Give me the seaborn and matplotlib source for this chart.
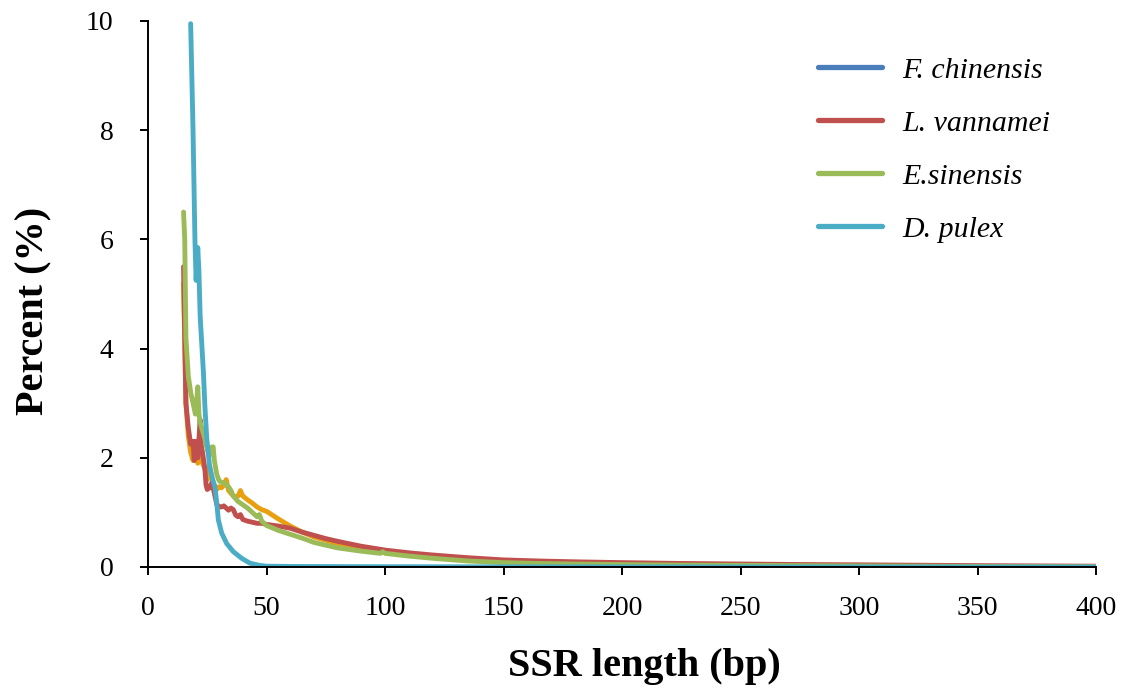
import numpy as np
import pandas as pd
import matplotlib
matplotlib.use("Agg")
import matplotlib.pyplot as plt
from matplotlib.lines import Line2D
import seaborn as sns

# ---------------- data ----------------
species = ["F. chinensis", "L. vannamei", "E.sinensis", "D. pulex"]

fc_x = [15, 16, 17, 18, 19, 20, 21, 22, 23, 24, 25, 26, 27, 28, 29, 30, 31, 32, 33, 34,
        35, 36, 37, 38, 39, 40, 42, 44, 46, 48, 50, 55, 60, 65, 70, 75, 80, 90, 100, 110,
        120, 135, 150, 165, 180, 200, 225, 250, 275, 300, 350, 400]
fc_y = [5.2, 3.0, 2.4, 2.1, 1.95, 2.2, 1.9, 2.5, 1.9, 1.8, 1.6, 1.85, 1.6, 1.5, 1.42, 1.47, 1.45, 1.5, 1.6, 1.4,
        1.35, 1.3, 1.28, 1.3, 1.4, 1.3, 1.23, 1.17, 1.1, 1.05, 1.02, 0.88, 0.75, 0.64, 0.55, 0.49, 0.42, 0.35, 0.29, 0.23,
        0.19, 0.13, 0.09, 0.075, 0.065, 0.055, 0.045, 0.035, 0.03, 0.02, 0.01, 0.005]

lv_x = [15, 15.5, 16, 17, 18, 19, 19.5, 20, 21, 22, 22.5, 23, 24, 24.5, 25, 26, 27, 28, 29, 30,
        31, 32, 33, 34, 35, 36, 37, 38, 39, 40, 42, 44, 46, 48, 50, 55, 60, 65, 70, 75,
        80, 90, 100, 110, 120, 135, 150, 165, 180, 200, 225, 250, 275, 300, 350, 400]
lv_y = [5.5, 4.2, 3.0, 2.55, 2.25, 2.3, 1.95, 2.3, 2.0, 2.7, 2.2, 2.1, 1.8, 1.5, 1.42, 1.45, 1.55, 1.35, 1.15, 1.1,
        1.1, 1.12, 1.08, 1.04, 1.08, 1.05, 0.95, 0.92, 0.96, 0.87, 0.84, 0.82, 0.8, 0.8, 0.78, 0.75, 0.71, 0.64, 0.58, 0.52,
        0.47, 0.38, 0.31, 0.26, 0.22, 0.17, 0.13, 0.11, 0.095, 0.08, 0.065, 0.055, 0.045, 0.04, 0.025, 0.015]

es_x = [15, 15.5, 16, 17, 18, 19, 20, 20.5, 21, 21.5, 22, 23, 24, 25, 26, 27, 27.5, 28, 29, 30,
        31, 32, 33, 34, 35, 36, 37, 38, 40, 42, 44, 46, 47, 48, 50, 55, 60, 65, 70, 75,
        80, 90, 98, 99, 100, 110, 120, 135, 150, 165, 180, 200, 225, 250, 275, 300, 350, 400]
es_y = [6.5, 6.0, 4.2, 3.5, 3.2, 3.0, 2.8, 3.0, 3.3, 2.8, 2.65, 2.5, 2.35, 2.15, 2.05, 2.2, 2.2, 1.95, 1.7, 1.58,
        1.55, 1.55, 1.5, 1.47, 1.4, 1.3, 1.25, 1.2, 1.14, 1.08, 1.0, 0.92, 0.96, 0.84, 0.76, 0.67, 0.6, 0.53, 0.45, 0.4,
        0.35, 0.29, 0.25, 0.28, 0.25, 0.2, 0.16, 0.11, 0.08, 0.065, 0.055, 0.045, 0.035, 0.03, 0.025, 0.02, 0.01, 0.005]

dp_x = [18, 19, 19.8, 20.3, 21, 21.5, 22, 22.6, 23.4, 24, 24.8, 26, 27, 28.3, 29, 29.7, 31.1, 33.2, 36, 39.5,
        43, 47, 50, 60, 100, 150, 200, 300, 400]
dp_y = [9.95, 8.0, 6.0, 5.25, 5.85, 5.4, 4.6, 4.15, 3.55, 2.95, 2.35, 1.84, 1.65, 1.45, 1.17, 0.86, 0.62, 0.43, 0.28, 0.16,
        0.07, 0.03, 0.015, 0.01, 0.005, 0.003, 0.002, 0.001, 0.0]

x_ticks = [0, 50, 100, 150, 200, 250, 300, 350, 400]
y_ticks = [0, 2, 4, 6, 8, 10]

line_colors = {"F. chinensis": "#E9A010", "L. vannamei": "#C0504D",
               "E.sinensis": "#9BBB59", "D. pulex": "#4BACC6"}
legend_colors = {"F. chinensis": "#4A7EBB", "L. vannamei": "#C0504D",
                 "E.sinensis": "#9BBB59", "D. pulex": "#4BACC6"}

frames = []
for name, xs, ys in zip(species, [fc_x, lv_x, es_x, dp_x], [fc_y, lv_y, es_y, dp_y]):
    frames.append(pd.DataFrame({"SSR length (bp)": xs, "Percent (%)": ys, "species": name}))
df = pd.concat(frames, ignore_index=True)

# ---------------- styling ----------------
sns.set_theme(style="ticks")
plt.rcParams["font.family"] = ["Liberation Serif", "DejaVu Serif"]
plt.rcParams["text.color"] = "black"
plt.rcParams["axes.labelcolor"] = "black"
plt.rcParams["xtick.color"] = "black"
plt.rcParams["ytick.color"] = "black"

fig = plt.figure(figsize=(11.29, 6.90), dpi=100)
ax = fig.add_axes([148 / 1129, 1 - 567 / 690, (1096 - 148) / 1129, (567 - 21) / 690])

sns.lineplot(data=df, x="SSR length (bp)", y="Percent (%)", hue="species",
             hue_order=species, palette=line_colors, estimator=None, sort=False,
             linewidth=3.5, legend=False, ax=ax,
             solid_joinstyle="round", solid_capstyle="round")

ax.set_xlim(0, 400)
ax.set_ylim(0, 10)
ax.set_xticks(x_ticks)
ax.set_yticks(y_ticks)
ax.set_xticklabels([str(t) for t in x_ticks])
ax.set_yticklabels([str(t) for t in y_ticks])
for s in ["top", "right"]:
    ax.spines[s].set_visible(False)
for s in ["left", "bottom"]:
    ax.spines[s].set_linewidth(1.4)
    ax.spines[s].set_color("black")
ax.tick_params(axis="both", direction="out", length=6, width=1.4, colors="black",
               labelcolor="black", labelsize=20)
ax.tick_params(axis="y", pad=19)
ax.tick_params(axis="x", pad=15)

ax.set_xlabel("SSR length (bp)", fontsize=29, fontweight="bold", color="black")
ax.set_ylabel("Percent (%)", fontsize=29, fontweight="bold", color="black")
ax.xaxis.set_label_coords(0.524, -0.148)
ax.yaxis.set_label_coords(-0.101, 0.469)

handles = [Line2D([0], [0], color=legend_colors[n], lw=3.8, solid_capstyle="round") for n in species]
leg = fig.legend(handles, species, loc="upper left",
                 bbox_to_anchor=(818 / 1129, 1 - 57 / 690), frameon=False,
                 prop={"family": "Liberation Serif", "style": "italic", "size": 21.5},
                 handlelength=2.15, handletextpad=0.67, labelspacing=0.87,
                 borderpad=0, borderaxespad=0)
for t in leg.get_texts():
    t.set_color("black")

fig.savefig("out.png", dpi=100)
